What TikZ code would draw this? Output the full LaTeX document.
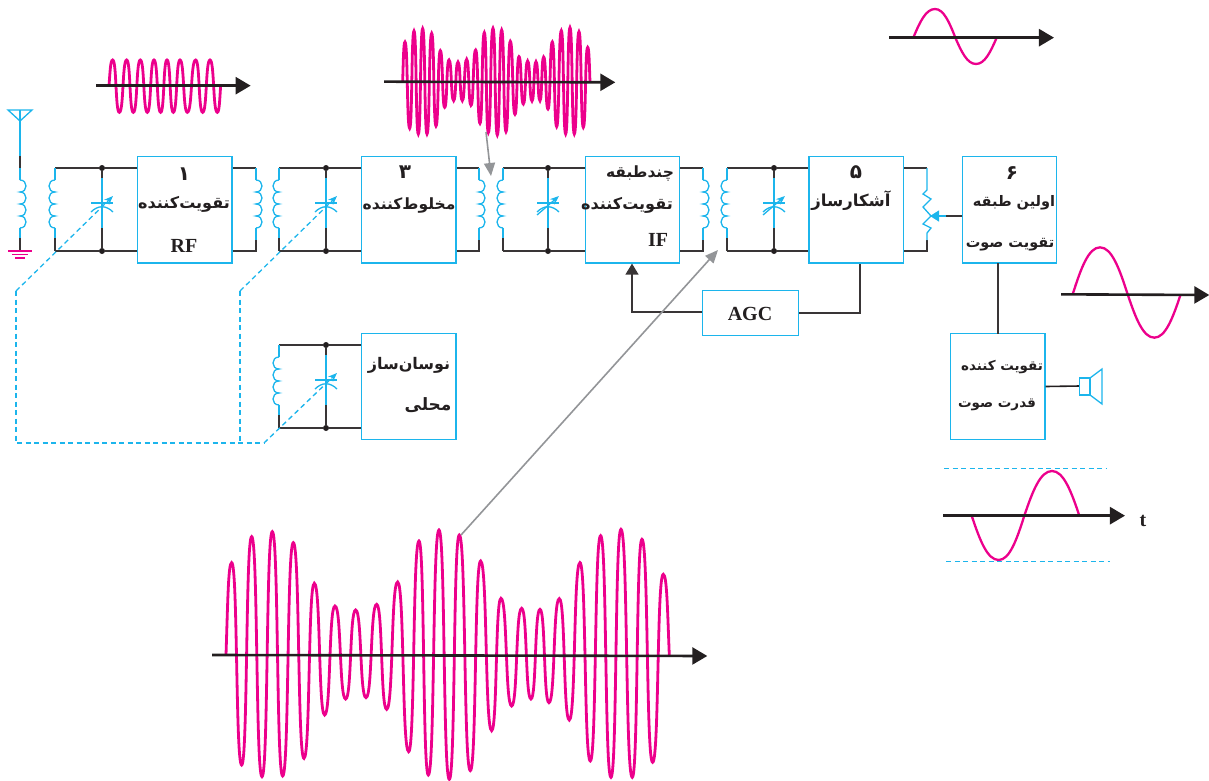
\documentclass[tikz,border=0pt]{standalone}
\usepackage{fontspec}
\setmainfont{Liberation Serif}
\newfontfamily\arabicfont[Script=Arabic]{DejaVu Sans}
\TeXXeTstate=1
\usetikzlibrary{arrows.meta,positioning,calc}

\definecolor{cyn}{HTML}{1CB5EC}
\definecolor{pnk}{HTML}{EC008C}
\definecolor{ink}{HTML}{231F20}
\definecolor{gry}{HTML}{939598}

% coil: x, top y, bulge
\newcommand{\coil}[3]{%
  \draw[cwire] (#1,#2) \foreach \k in {0,1,2,3} {
    .. controls ({#1+#3},{#2+12*\k}) and ({#1+#3},{#2+12*\k+12}) .. ({#1},{#2+12*\k+12})};}
% tuned circuit: tag, x left, x cap, y top, y bottom, block, trimmer style and end
\newcommand{\tank}[8]{%
  \coordinate (#1tl) at (#2,#4);
  \coordinate (#1bl) at (#2,#5);
  \node[dot] (#1td) at (#3,#4) {};
  \node[dot] (#1bd) at (#3,#5) {};
  \draw[wire] (#1tl) -- (#1td) -- (#1td -| #6.west);
  \draw[wire] (#1bl) -- (#1bd) -- (#1bd -| #6.west);
  \draw[wire] (#1bl) -- ++(0,-13);
  \draw[cwire] (#1tl) -- ++(0,12);
  \draw[cwire] ($(#1tl)+(0,60)$) -- ++(0,10);
  \coil{#2}{#4+12}{-8}
  \draw[wire] (#1td) -- ++(0,10);
  \draw[cwire] ($(#1td)+(0,10)$) -- ++(0,50);
  \draw[wire] ($(#1td)+(0,60)$) -- (#1bd);
  \draw[cwire] ($(#1td)+(-11,35)$) -- ++(22,0);
  \draw[cwire] ($(#1td)+(-11,44)$) .. controls ($(#1td)+(-4,37)$) and ($(#1td)+(4,37)$) .. ($(#1td)+(11,44)$);
  \draw[#7, -{Stealth[length=9pt,width=7pt]}] #8 -- ($(#1td)+(11,28)$);}
% secondary coil right of a block
\newcommand{\outcoil}[5]{%
  \coordinate (#1t) at (#3,#4);
  \coordinate (#1b) at (#3,#5);
  \draw[wire] (#1t -| #2.east) -- (#1t);
  \draw[wire] (#1b -| #2.east) -- (#1b) -- ++(0,-11);
  \draw[cwire] (#1t) -- ++(0,12);
  \draw[cwire] ($(#1t)+(0,60)$) -- ++(0,12);
  \coil{#3}{#4+12}{8}}
% carrier through its extrema, first and last point on the axis
\newcommand{\hnd}{.6}
\newcommand{\carrier}[3]{%
  \draw[wave] (#1,#2) \foreach \x/\y [remember=\x as \px (initially #1), remember=\y as \py (initially #2)] in {#3} {
    .. controls ({\px+(\hnd-(\hnd-.3)*(\py==#2))*(\x-\px)},{\py+(\py==#2)*.55*(\y-\py)}) and ({\x-(\hnd-(\hnd-.3)*(\y==#2))*(\x-\px)},{\y-(\y==#2)*.55*(\y-\py)}) .. (\x,\y)};}

\begin{document}
\begin{tikzpicture}[
  x=1pt, y=-1pt,
  block/.style={draw=cyn, line width=1.2pt, minimum width=94.5pt, inner sep=0pt},
  wire/.style={draw=ink!90, line width=1.3pt},
  cwire/.style={draw=cyn, line width=1.3pt},
  dot/.style={circle, fill=ink, inner sep=0pt, minimum size=6pt},
  gang/.style={draw=cyn, line width=1.3pt, dash pattern=on 5pt off 3.5pt},
  wave/.style={draw=pnk, line width=2.8pt},
  axis/.style={draw=ink, line width=2.6pt, -{Triangle[length=15pt,width=17pt]}},
  pointer/.style={draw=gry, line width=1.6pt, -{Triangle[length=13pt,width=11pt]}},
  fa/.style={font=\arabicfont\bfseries\fontsize{#1}{#1}\selectfont, inner sep=0pt},
  lat/.style={font=\bfseries\fontsize{20}{20}\selectfont, text=ink, inner sep=0pt}
]
\useasboundingbox (0,0) rectangle (1209,780);

% blocks
\node[block, minimum height=106.5pt] (rf) at (184.75,209.75) {};
\node[block, minimum height=106.5pt] (mix) at (408.75,209.75) {};
\node[block, minimum height=106.5pt] (if) at (632.5,209.75) {};
\node[block, minimum height=106.5pt] (det) at (856.25,209.75) {};
\node[block, minimum height=106.5pt] (af) at (1009.5,209.75) {};
\node[block, minimum height=106.5pt] (pow) at (997.75,386.5) {};
\node[block, minimum height=106.5pt] (osc) at (408.75,386.5) {};
\node[block, minimum width=96pt, minimum height=45pt] (agc) at (750.5,313) {};

% block labels
\node[fa=20, text=ink] (n1) at (184,174) {\beginR ۱\endR};
\node[fa=16, text=ink] (t1) at (184,204) {\beginR تقویت‌کننده\endR};
\node[lat] (rft) at (184,246) {RF};
\node[fa=20, text=ink] (n3) at (405,172) {\beginR ۳\endR};
\node[fa=15.5, text=ink] (t3) at (409,205) {\beginR مخلوط‌کننده\endR};
\node[fa=15.5, text=ink] (t4a) at (640,173) {\beginR چندطبقه\endR};
\node[fa=16, text=ink] (t4b) at (627,205) {\beginR تقویت‌کننده\endR};
\node[lat] (ift) at (658,240) {IF};
\node[fa=20, text=ink] (n5) at (856,172) {\beginR ۵\endR};
\node[fa=16.5, text=ink] (t5) at (851,201) {\beginR آشکارساز\endR};
\node[fa=20, text=ink] (n6) at (1012,173) {\beginR ۶\endR};
\node[fa=14.5, text=ink] (t6a) at (1014,203) {\beginR اولین طبقه\endR};
\node[fa=14.5, text=ink] (t6b) at (1010,245) {\beginR تقویت صوت\endR};
\node[fa=13.5, text=ink] (t7a) at (1002,367) {\beginR تقویت کننده\endR};
\node[fa=13.5, text=ink] (t7b) at (997,405) {\beginR قدرت صوت\endR};
\node[fa=16, text=ink] (t8a) at (409,365) {\beginR نوسان‌ساز\endR};
\node[fa=17, text=ink] (t8b) at (428,405) {\beginR محلی\endR};
\node[lat] (agct) at (750,314) {AGC};
\node[lat] (tt) at (1143,521) {t};

% ganged tuning
\coordinate (g1) at (16,291);
\coordinate (g2) at (240,291);
\coordinate (g3) at (264,443);
\draw[gang] (g1) -- (16,443) -- (g3);
\draw[gang] (g2) -- (240,443);

% tuned circuits
\tank{a}{55}{102}{168}{251}{rf}{gang}{(g1)}
\tank{b}{279}{326}{168}{251}{mix}{gang}{(g2)}
\tank{c}{503}{548}{168}{251}{if}{cwire}{($(ctd)+(-11,47)$)}
\tank{d}{727}{774}{168}{251}{det}{cwire}{($(dtd)+(-11,47)$)}
\tank{e}{279}{326}{345}{428}{osc}{gang}{(g3)}
\outcoil{ra}{rf}{256}{168}{251}
\outcoil{rb}{mix}{479}{168}{251}
\outcoil{rc}{if}{703}{168}{251}

% antenna
\coordinate (ant) at (20,110);
\coordinate (gnd) at (20,251);
\draw[cwire] (8,110) -- (32,110) -- (20,121) -- cycle;
\draw[cwire] (ant) -- (20,156);
\draw[wire] (20,156) -- (20,168);
\draw[cwire] (20,168) -- (20,180);
\coil{20}{180}{8}
\draw[cwire] (20,228) -- (20,238);
\draw[wire] (20,238) -- (gnd);
\draw[draw=pnk, line width=1.3pt] (8,251) -- (32,251) (12,254.5) -- (28,254.5) (15,258) -- (25,258);

% detector load
\coordinate (pt) at (927,168);
\coordinate (pb) at (927,251);
\draw[wire] (pt -| det.east) -- (pt);
\draw[wire] (pb -| det.east) -- (pb) -- (927,240);
\draw[cwire] (pt) -- (927,190) -- (923,194) -- (931,199) -- (923,207) -- (931,216) -- (923,224) -- (931,228) -- (927,233) -- (927,240);
\coordinate (pw) at (930,216);
\coordinate (pm) at (946,216);
\draw[wire] (pm -| af.west) -- (pm);
\draw[cwire, -{Triangle[length=9pt,width=11pt]}] (pm) -- (pw);

% audio path
\draw[wire] (998,263) -- (998,333.5);
\coordinate (spk) at (1079.5,386);
\draw[draw=ink, line width=1.6pt] (pow.east) -- (spk);
\draw[cwire] (spk) ++(0,-8) rectangle ++(10.5,17);
\draw[cwire] (1090,378) -- (1102,369) -- (1102,404) -- (1090,395);

% AGC loop
\coordinate (ac) at (632,312);
\coordinate (dc) at (860,313);
\draw[wire, -{Triangle[length=11pt,width=13pt]}] (agc.west |- ac) -- (ac) -- (ac |- if.south);
\draw[wire] (agc.east |- dc) -- (dc) -- (dc |- det.south);

% top left carrier
\begin{scope}[shift={(90,50)}, x=.3333pt, y=-.3333pt]
\carrier{57}{107}{68/30,88/187,110/30,130/187,151/30,172/187,192/30,212/187,231/30,250/187,270/30,292/187,317/30,338/187,360/30,382/187,392/107}
\coordinate (w1a) at (18,107);
\coordinate (w1b) at (482,107);
\draw[axis] (w1a) -- (w1b);
\end{scope}

% modulated carrier after mixer
\begin{scope}[shift={(380,20)}, x=.3333pt, y=-.3333pt]
\carrier{68}{185}{75/66,89/325,102/33,115/342,128/26,141/342,155/40,168/318,181/92,194/262,207/120,221/242,234/126,247/242,260/118,273/256,287/90,300/310,313/38,325/338,339/25,352/345,365/30,378/335,391/64,405/283,417/110,430/252,443/123,456/243,468/125,480/242,491/111,504/267,517/66,530/320,544/32,557/342,570/23,583/342,597/35,610/322,623/82,630/185}
\coordinate (w2a) at (12,185);
\coordinate (w2b) at (706,187);
\draw[axis] (w2a) -- (w2b);
\end{scope}

% audio waves
\renewcommand{\hnd}{.42}
\begin{scope}[shift={(880,0)}, x=.3333pt, y=-.3333pt, wave/.append style={line width=2.3pt}]
\carrier{100}{113}{165/27,226/113,288/192,350/113}
\coordinate (w3a) at (28,113);
\coordinate (w3b) at (522,113);
\draw[axis] (w3a) -- (w3b);
\end{scope}
\begin{scope}[shift={(1050,240)}, x=.3333pt, y=-.3333pt, wave/.append style={line width=2.3pt}]
\carrier{68}{163}{150/22,233/163,313/293,392/163}
\coordinate (w4a) at (33,163);
\coordinate (w4b) at (478,165);
\draw[axis] (w4a) -- (w4b);
\end{scope}
\begin{scope}[shift={(930,460)}, x=.3333pt, y=-.3333pt, wave/.append style={line width=2.3pt}]
\carrier{125}{167}{206/300,283/167,366/33,448/167}
\coordinate (w5a) at (39,167);
\coordinate (w5b) at (585,167);
\draw[axis] (w5a) -- (w5b);
\draw[gang] (42,26) -- (530,26);
\draw[gang] (48,305) -- (540,305);
\end{scope}
\renewcommand{\hnd}{.6}

% large modulated carrier
\begin{scope}[shift={(210,520)}, x=.3333pt, y=-.3333pt]
\carrier{48}{405}{65/128,95/735,125/50,156/770,187/35,218/768,250/68,282/715,313/190,344/585,375/258,407/537,437/270,468/533,500/253,530/568,563/186,596/695,627/63,655/765,687/30,718/778,748/45,781/752,812/123,845/632,873/235,905/558,935/265,963/537,990/268,1017/548,1048/236,1078/600,1110/128,1141/723,1172/47,1203/772,1233/28,1267/772,1296/58,1328/727,1360/163,1378/405}
\coordinate (w6a) at (6,405);
\coordinate (w6b) at (1492,408);
\draw[axis] (w6a) -- (w6b);
\end{scope}

% pointers to the stages
\coordinate (p1) at (486,132);
\coordinate (p1e) at (491,176);
\draw[pointer] (p1) -- (p1e);
\coordinate (p2) at (461,535);
\coordinate (p2e) at (718,250);
\draw[pointer] (p2) -- (p2e);
\end{tikzpicture}
\end{document}
